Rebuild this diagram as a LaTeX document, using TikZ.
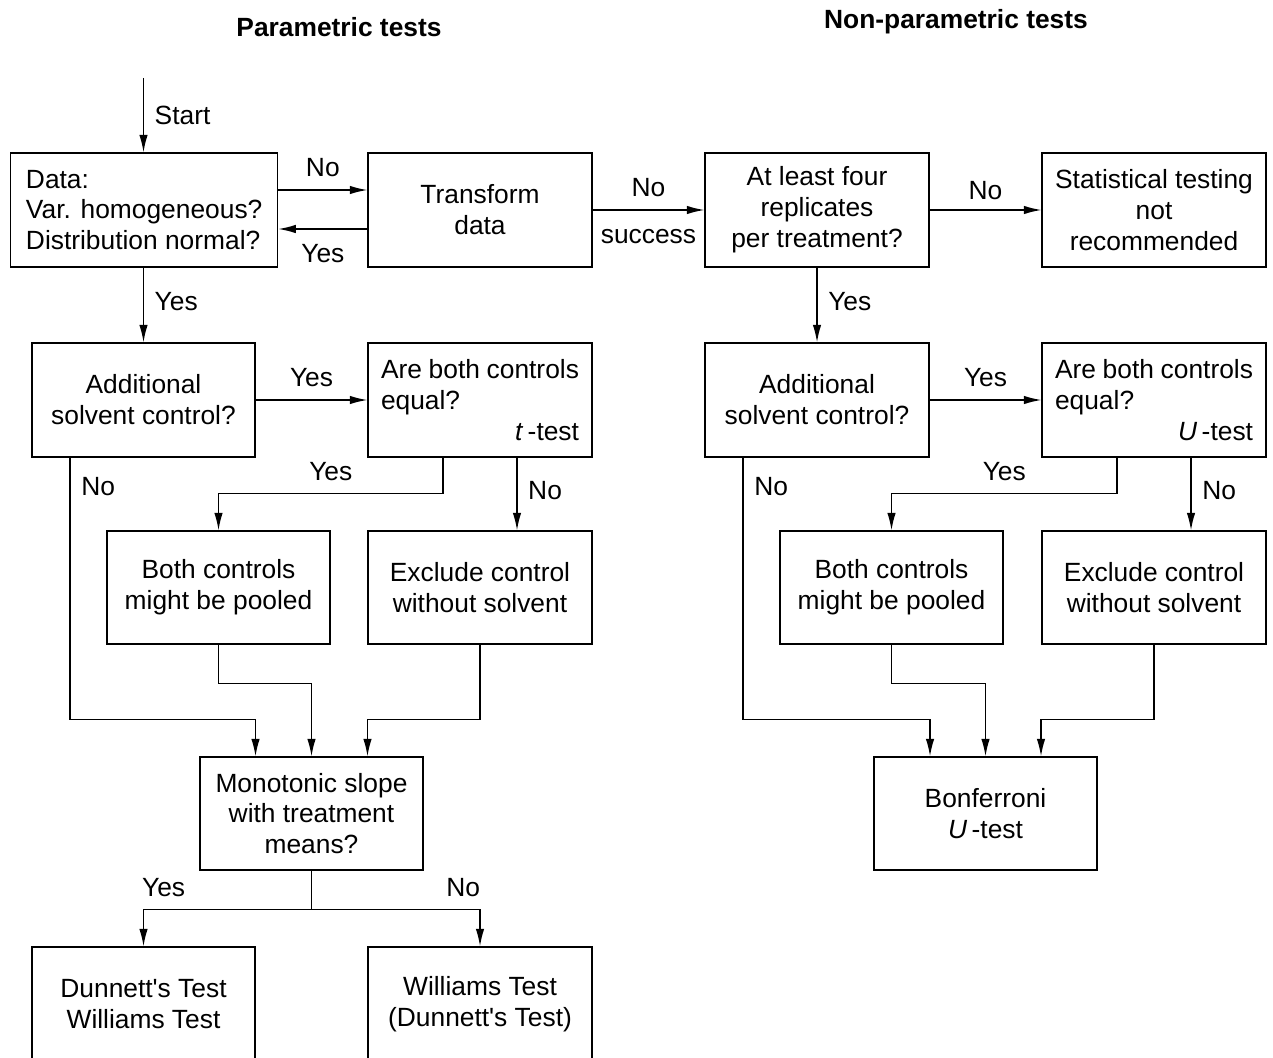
\documentclass[tikz,border=0pt]{standalone}
\usepackage{fontspec}
\setmainfont{Liberation Sans}
\usetikzlibrary{arrows.meta}

\tikzset{
  box/.style={draw, line width=0.8pt, minimum width=4.48cm, minimum height=2.28cm, align=center, inner sep=0pt},
  lbl/.style={inner sep=6pt, text height=1.5ex, text depth=.25ex},
  arr/.style={line width=0.8pt, -{Latex[length=3.5mm, width=1.7mm]}},
}

\begin{document}
\begin{tikzpicture}[x=0.02cm, y=-0.02cm, font=\fontsize{15}{17.6}\selectfont]
            \useasboundingbox (0,0) rectangle (1273,1057);

            % Titres
            \node[font=\fontsize{15}{17.6}\selectfont\bfseries] (titleP) at (339, 27) {Parametric tests};
            \node[font=\fontsize{15}{17.6}\selectfont\bfseries] (titleN) at (956, 22) {Non-parametric tests};

            % Ligne du haut
            \coordinate (start) at (143.5, 78);
            \node[box, minimum width=5.34cm, align=left, anchor=west, inner sep=0.24cm] (data) at (10, 210)
                {Data:\\Var. homogeneous?\\Distribution normal?};
            \node[box] (trans) at (480, 210) {Transform\\data};
            \node[box] (four) at (817, 210) {At least four\\replicates\\per treatment?};
            \node[box] (notrec) at (1154, 210) {Statistical testing\\not\\recommended};

            % Contrôle solvant
            \node[box, minimum width=4.46cm] (addl) at (143.5, 400) {Additional\\solvent control?};
            \node[box, align=left] (equal) at (480, 400)
                {\parbox{3.96cm}{Are both controls\\equal?\\\hspace*{0pt plus 1filll}\textit{t}\,-test}};
            \node[box] (addr) at (817, 400) {Additional\\solvent control?};
            \node[box, align=left] (equalr) at (1154, 400)
                {\parbox{3.96cm}{Are both controls\\equal?\\\hspace*{0pt plus 1filll}\textit{U}\,-test}};

            \node[box, minimum width=4.46cm, minimum height=2.26cm] (pooll) at (218.5, 587.5) {Both controls\\might be pooled};
            \node[box, minimum height=2.26cm] (excl) at (480, 587.5) {Exclude control\\without solvent};
            \node[box, minimum width=4.46cm, minimum height=2.26cm] (poolr) at (891.5, 587.5) {Both controls\\might be pooled};
            \node[box, minimum height=2.26cm] (exclr) at (1154, 587.5) {Exclude control\\without solvent};

            % Tests
            \node[box, minimum width=4.46cm, minimum height=2.26cm] (mono) at (311.5, 813.5) {Monotonic slope\\with treatment\\means?};
            \node[box, minimum width=4.46cm, minimum height=2.26cm] (bonf) at (985.5, 813.5) {Bonferroni\\\textit{U}\,-test};
            \node[box, minimum width=4.46cm] (dunn) at (143.5, 1004) {Dunnett\textquotesingle s Test\\Williams Test};
            \node[box] (will) at (480, 1004) {Williams Test\\(Dunnett\textquotesingle s Test)};

            % Flèches du haut
            \draw[arr] (start) -- node[lbl, right, yshift=-0.08cm] (lstart) {Start} (data.north -| start);
            \draw[arr] ([yshift=0.4cm]data.east) -- node[lbl, above] (lno1) {No} ([yshift=0.4cm]trans.west);
            \draw[arr] ([yshift=-0.38cm]trans.west) -- node[lbl, below, yshift=-0.16cm] (lyes1) {Yes} ([yshift=-0.38cm]data.east);
            \draw[arr] (trans) -- node[lbl, above] (lno2) {No} node[lbl, below, yshift=-0.16cm] (lsucc) {success} (four);
            \draw[arr] (four) -- node[lbl, above, yshift=-0.06cm] (lno3) {No} (notrec);
            \draw[arr] (data.south -| addl) -- node[lbl, right] (lyes2) {Yes} (addl);
            \draw[arr] (four) -- node[lbl, right] (lyes3) {Yes} (addr);

            % Gauche
            \draw[arr] (addl) -- node[lbl, above] (lyes4) {Yes} (equal);
            \draw[arr] ([xshift=-0.74cm]equal.south) -- ++(0,-0.72cm) -| node[lbl, pos=0.25, above] (lyes5) {Yes} (pooll.north);
            \draw[arr] ([xshift=0.74cm]equal.south) -- node[lbl, right] (lno4) {No} ([xshift=0.74cm]excl.north);
            \draw[arr] ([xshift=-1.47cm]addl.south) -- node[lbl, right, pos=0.11, yshift=-0.06cm] (lno5) {No} ++(0,-5.24cm) -| ([xshift=-1.12cm]mono.north);
            \draw[arr] (pooll.south) -- ++(0,-0.78cm) -| (mono.north);
            \draw[arr] (excl.south) -- ++(0,-1.5cm) -| ([xshift=1.12cm]mono.north);
            \draw[arr] (mono.south) -- ++(0,-0.78cm) -| node[lbl, pos=0.44, above] (lyes6) {Yes} (dunn.north);
            \draw[arr] (mono.south) -- ++(0,-0.78cm) -| node[lbl, pos=0.45, above] (lno6) {No} (will.north);

            % Droite
            \draw[arr] (addr) -- node[lbl, above] (lyes7) {Yes} (equalr);
            \draw[arr] ([xshift=-0.74cm]equalr.south) -- ++(0,-0.72cm) -| node[lbl, pos=0.25, above] (lyes8) {Yes} (poolr.north);
            \draw[arr] ([xshift=0.74cm]equalr.south) -- node[lbl, right] (lno7) {No} ([xshift=0.74cm]exclr.north);
            \draw[arr] ([xshift=-1.48cm]addr.south) -- node[lbl, right, pos=0.11, yshift=-0.06cm] (lno8) {No} ++(0,-5.24cm) -| ([xshift=-1.11cm]bonf.north);
            \draw[arr] (poolr.south) -- ++(0,-0.78cm) -| (bonf.north);
            \draw[arr] (exclr.south) -- ++(0,-1.5cm) -| ([xshift=1.11cm]bonf.north);

        \end{tikzpicture}
\end{document}
